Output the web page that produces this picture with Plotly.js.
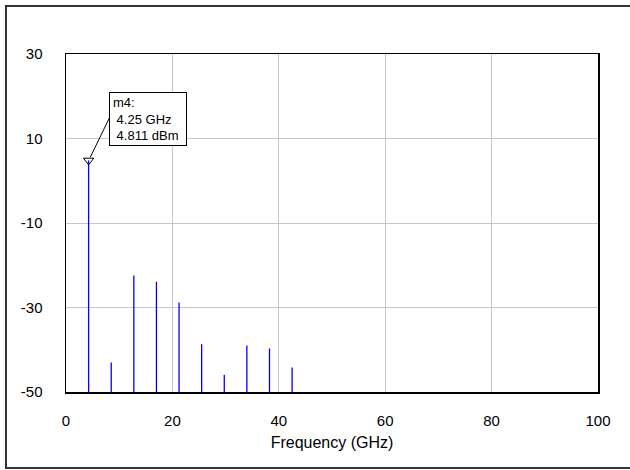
<!DOCTYPE html>
<html>
<head>
<meta charset="utf-8">
<script src="https://cdn.plot.ly/plotly-3.0.1.min.js"></script>
<style>html,body{margin:0;padding:0;background:#fff;}#chart{width:630px;height:470px;}</style>
</head>
<body>
<div id="chart"></div>
<script>
// Harmonic spectrum (GHz, dBm)
const freqGHz = [4.25, 8.5, 12.75, 17, 21.25, 25.5, 29.75, 34, 38.25, 42.5];
const powerDbm = [4.811, -43.0, -22.4, -23.9, -28.8, -38.7, -45.9, -39.0, -39.7, -44.2];
const floorDbm = -50;
const markerName = 'm4';
const markerIndex = 0;
const xTicks = [0, 20, 40, 60, 80, 100];
const yTicks = [-50, -30, -10, 10, 30];

const lx = [], ly = [];
freqGHz.forEach((f, i) => { lx.push(f, f, null); ly.push(floorDbm, powerDbm[i], null); });

const mf = freqGHz[markerIndex], mp = powerDbm[markerIndex];

const tickFont = {family: 'Arial, "Liberation Sans", sans-serif', size: 15, color: '#000'};
const titleFont = {family: 'Arial, "Liberation Sans", sans-serif', size: 16, color: '#000'};

const traces = [
  {x: lx, y: ly, mode: 'lines', line: {color: '#0000ff', width: 1.3}, hoverinfo: 'skip', showlegend: false},
  {x: [mf], y: [mp], mode: 'markers', marker: {symbol: 'triangle-down-open', size: 9, color: '#000', line: {width: 1, color: '#000'}}, showlegend: false}
];

const layout = {
  width: 630, height: 470,
  margin: {l: 66, r: 32, t: 54, b: 78},
  paper_bgcolor: '#fff', plot_bgcolor: '#fff',
  showlegend: false,
  xaxis: {
    range: [0, 100], tickvals: xTicks, ticktext: xTicks.map(String),
    showgrid: true, gridcolor: '#c8c8c8', gridwidth: 1, zeroline: false,
    showline: true, linecolor: '#000', linewidth: 1.5, mirror: true,
    ticks: '', ticklabelstandoff: 14, tickfont: tickFont,
    title: {text: 'Frequency (GHz)', font: titleFont, standoff: 9}
  },
  yaxis: {
    range: [-50, 30], tickvals: yTicks, ticktext: yTicks.map(String),
    showgrid: true, gridcolor: '#c8c8c8', gridwidth: 1, zeroline: false,
    showline: true, linecolor: '#000', linewidth: 1.5, mirror: true,
    ticks: '', ticklabelstandoff: 19, tickfont: tickFont
  },
  shapes: [
    {type: 'rect', xref: 'paper', yref: 'paper', x0: -0.1128, x1: 1.07, y0: -0.2249, y1: 1.142,
     line: {color: '#333', width: 2}, fillcolor: 'rgba(0,0,0,0)', layer: 'below'},
    {type: 'line', xref: 'x', yref: 'y', x0: 4.57, y0: 5.59, x1: 8.14, y1: 14.83,
     line: {color: '#000', width: 1}}
  ],
  annotations: [
    {xref: 'x', yref: 'y', x: 8.14, y: 21.07, xanchor: 'left', yanchor: 'top',
     text: markerName + ':<br> ' + mf + ' GHz<br> ' + mp.toFixed(3) + ' dBm',
     showarrow: false, align: 'left', bgcolor: '#fff', bordercolor: '#000', borderwidth: 1, borderpad: 3,
     width: 70, height: 46,
     font: {family: 'Arial, "Liberation Sans", sans-serif', size: 13, color: '#000'}}
  ]
};

Plotly.newPlot('chart', traces, layout, {displayModeBar: false, staticPlot: true});
</script>
</body>
</html>
